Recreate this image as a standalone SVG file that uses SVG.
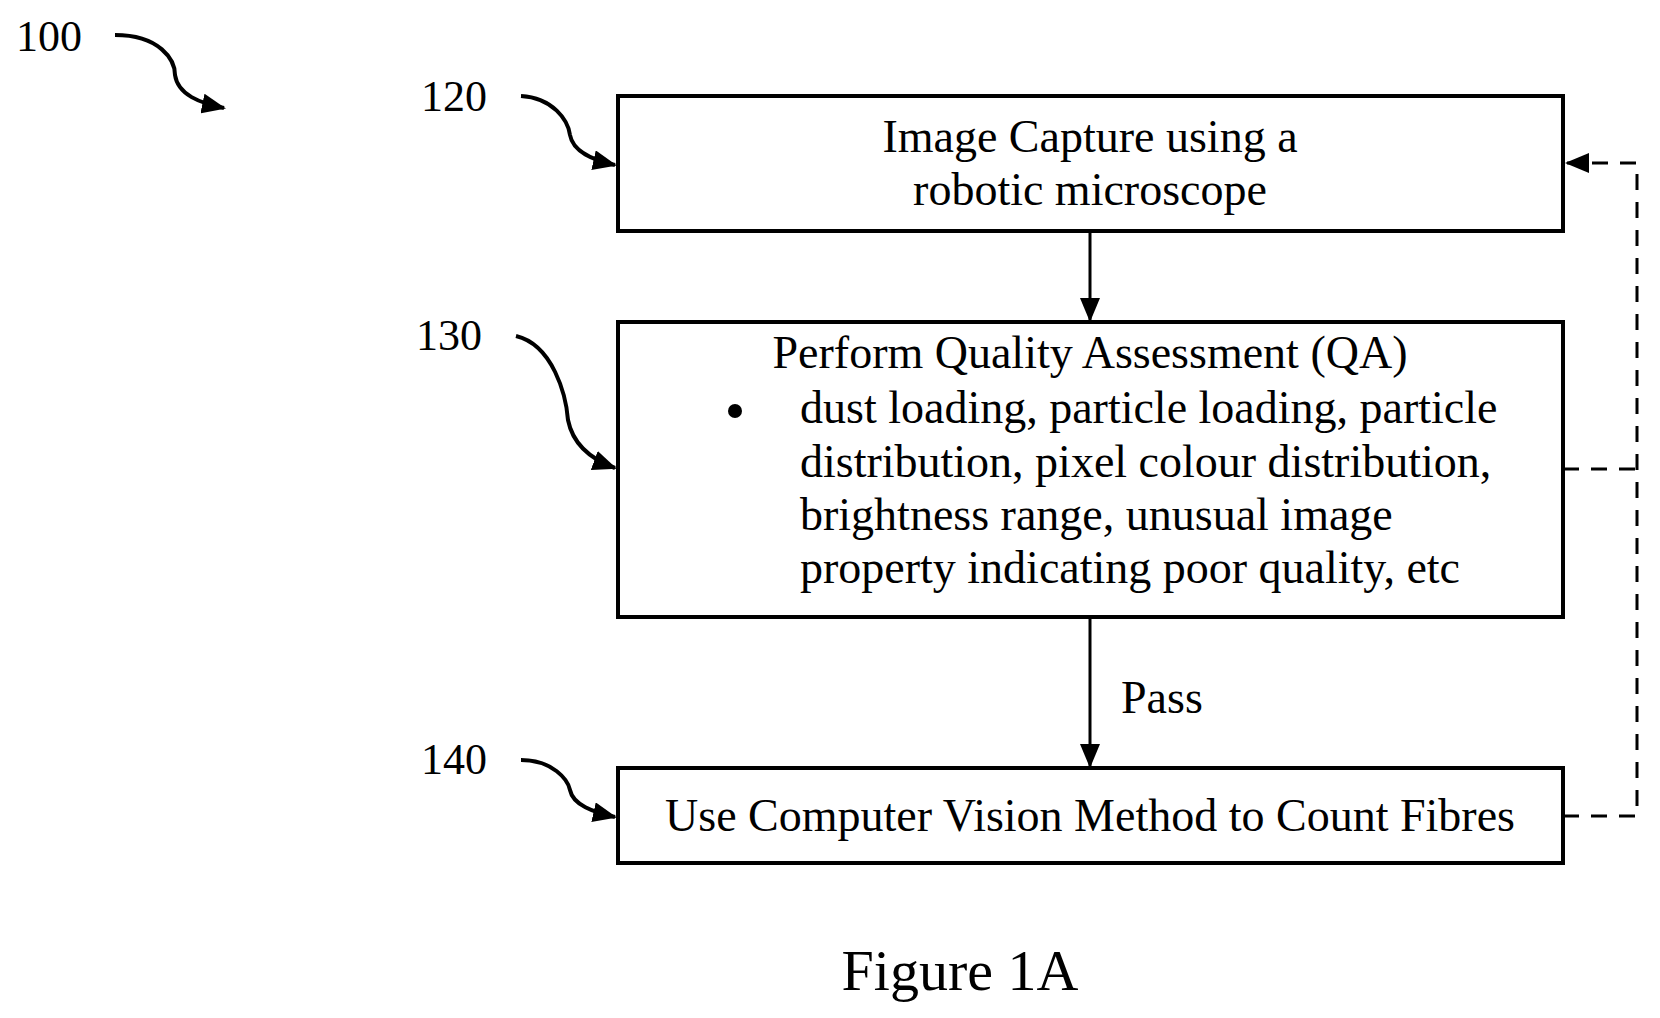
<svg xmlns="http://www.w3.org/2000/svg" width="1660" height="1018" viewBox="0 0 1660 1018">
<style>
text{font-family:"Liberation Serif","Times New Roman",serif;fill:#000;font-size:46px}
.lb{font-size:44px}
.box{fill:#fff;stroke:#000;stroke-width:4}
.ln{fill:none;stroke:#000;stroke-width:3}
.ds{fill:none;stroke:#000;stroke-width:3;stroke-dasharray:16,12}
.cv{fill:none;stroke:#000;stroke-width:4}
</style>
<defs>
<marker id="ah2" markerWidth="24" markerHeight="20" refX="22" refY="10" orient="auto" markerUnits="userSpaceOnUse"><path d="M0,0L24,10L0,20z"/></marker>
</defs>
<g id="refs">
<text class="lb" x="16" y="51">100</text>
<path class="cv" d="M115,35 C160,35 175,60 175,75 C178,95 200,103 224,108" marker-end="url(#ah2)"/>
<text class="lb" x="421" y="111">120</text>
<path class="cv" d="M521,96 C553,98 568,120 570,135 C573,152 593,160 615,165" marker-end="url(#ah2)"/>
<text class="lb" x="416" y="350">130</text>
<path class="cv" d="M516,336 C553,345 566,395 568,420 C573,445 593,460 615,468" marker-end="url(#ah2)"/>
<text class="lb" x="421" y="774">140</text>
<path class="cv" d="M521,760 C553,760 568,780 570,790 C573,805 593,812 615,817" marker-end="url(#ah2)"/>
</g>
<g id="connectors">
<line class="ln" x1="1090" y1="231" x2="1090" y2="320" marker-end="url(#ah2)"/>
<line class="ln" x1="1090" y1="617" x2="1090" y2="766" marker-end="url(#ah2)"/>
<text x="1121" y="713">Pass</text>
<polyline class="ds" points="1563,469 1637,469"/>
<polyline class="ds" points="1563,816 1637,816 1637,163 1567,163" marker-end="url(#ah2)"/>
</g>
<g id="n120">
<rect class="box" x="618" y="96" width="945" height="135"/>
<text x="1090" y="152" text-anchor="middle">Image Capture using a</text>
<text x="1090" y="205" text-anchor="middle">robotic microscope</text>
</g>
<g id="n130">
<rect class="box" x="618" y="322" width="945" height="295"/>
<text x="1090" y="368" text-anchor="middle">Perform Quality Assessment (QA)</text>
<circle cx="735" cy="411" r="7"/>
<text x="800" y="423">dust loading, particle loading, particle</text>
<text x="800" y="477">distribution, pixel colour distribution,</text>
<text x="800" y="530">brightness range, unusual image</text>
<text x="800" y="583">property indicating poor quality, etc</text>
</g>
<g id="n140">
<rect class="box" x="618" y="768" width="945" height="95"/>
<text x="1090" y="831" text-anchor="middle">Use Computer Vision Method to Count Fibres</text>
</g>
<text x="960" y="990" text-anchor="middle" style="font-size:58px">Figure 1A</text>
</svg>
